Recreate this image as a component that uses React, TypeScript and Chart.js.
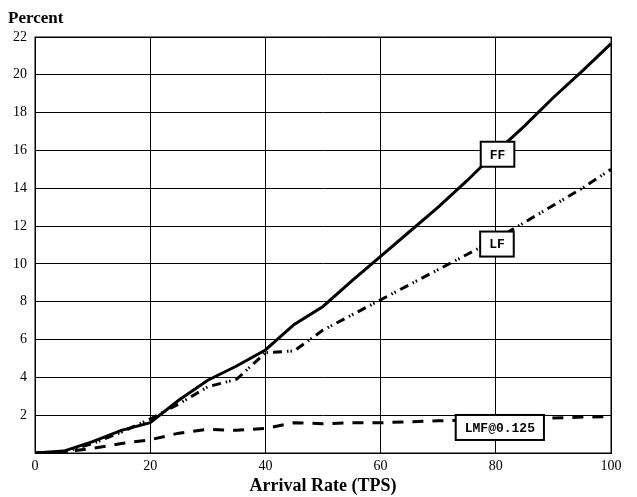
import React, { useEffect, useRef } from "react";
import { Chart, registerables } from "chart.js";

Chart.register(...registerables);

const xValues = [0, 5, 10, 15, 20, 25, 30, 35, 40, 45, 50, 55, 60, 65, 70, 75, 80, 85, 90, 95, 100];
const ffValues = [0, 0.1, 0.6, 1.2, 1.6, 2.8, 3.85, 4.6, 5.45, 6.8, 7.75, 9.1, 10.4, 11.7, 13.0, 14.4, 15.9, 17.3, 18.8, 20.2, 21.65];
const lfValues = [0, 0.05, 0.5, 1.1, 1.8, 2.6, 3.5, 3.9, 5.3, 5.4, 6.5, 7.3, 8.1, 8.9, 9.7, 10.5, 11.3, 12.2, 13.1, 14.0, 15.0];
const lmfValues = [0, 0.05, 0.25, 0.5, 0.7, 1.05, 1.25, 1.2, 1.3, 1.6, 1.55, 1.6, 1.6, 1.65, 1.7, 1.75, 1.8, 1.8, 1.85, 1.9, 1.92];
const seriesNames = ["FF", "LF", "LMF@0.125"];
const yTickValues = [2, 4, 6, 8, 10, 12, 14, 16, 18, 20, 22];
const xTickValues = [0, 20, 40, 60, 80, 100];
const labelAnchorX = [80.3, 80.2, 80.7];
const labelAnchorY = [15.8, 11.05, 1.35];

const serif = "'Liberation Serif', 'Times New Roman', serif";
const mono = "'Liberation Mono', 'Courier New', monospace";

const labelPlugin = {
  id: "boxLabels",
  afterDatasetsDraw(chart: any) {
    const ctx = chart.ctx;
    const xs = chart.scales.x;
    const ys = chart.scales.y;
    ctx.save();
    ctx.font = `bold 13px ${mono}`;
    ctx.textAlign = "center";
    ctx.textBaseline = "middle";
    seriesNames.forEach((name, i) => {
      const cx = xs.getPixelForValue(labelAnchorX[i]);
      const cy = ys.getPixelForValue(labelAnchorY[i]);
      const w = ctx.measureText(name).width + 18;
      const h = 25;
      ctx.fillStyle = "#ffffff";
      ctx.fillRect(cx - w / 2, cy - h / 2, w, h);
      ctx.lineWidth = 2;
      ctx.strokeStyle = "#000000";
      ctx.strokeRect(cx - w / 2, cy - h / 2, w, h);
      ctx.fillStyle = "#000000";
      ctx.fillText(name, cx, cy + 1);
    });
    ctx.restore();
  },
  afterDraw(chart: any) {
    const ctx = chart.ctx;
    ctx.save();
    ctx.font = `bold 17px ${serif}`;
    ctx.fillStyle = "#000";
    ctx.textAlign = "left";
    ctx.textBaseline = "alphabetic";
    ctx.fillText("Percent", 8, 23);
    const a = chart.chartArea;
    ctx.lineWidth = 1;
    ctx.strokeStyle = "#000";
    ctx.strokeRect(a.left, a.top, a.right - a.left, a.bottom - a.top);
    ctx.restore();
  },
};

export default function App() {
  const ref = useRef<HTMLCanvasElement>(null);
  useEffect(() => {
    if (!ref.current) return;
    const mk = (vals: number[]) => xValues.map((x, i) => ({ x, y: vals[i] }));
    const chart = new Chart(ref.current, {
      type: "line",
      data: {
        datasets: [
          {
            label: seriesNames[0],
            data: mk(ffValues),
            borderColor: "#000",
            borderWidth: 3,
            pointRadius: 0,
            tension: 0,
          },
          {
            label: seriesNames[1],
            data: mk(lfValues),
            borderColor: "#000",
            borderWidth: 3,
            borderDash: [9, 5, 1.5, 2, 1.5, 5],
            pointRadius: 0,
            tension: 0,
          },
          {
            label: seriesNames[2],
            data: mk(lmfValues),
            borderColor: "#000",
            borderWidth: 3,
            borderDash: [11, 9],
            pointRadius: 0,
            tension: 0,
          },
        ],
      },
      options: {
        responsive: false,
        animation: false,
        layout: { padding: { top: 37, right: 26, left: 0, bottom: 0 } },
        plugins: {
          legend: { display: false },
          title: { display: false },
          tooltip: { enabled: false },
        },
        scales: {
          x: {
            type: "linear",
            min: 0,
            max: 100,
            afterBuildTicks: (s: any) => {
              s.ticks = xTickValues.map((v) => ({ value: v }));
            },
            afterFit: (s: any) => {
              s.height = 44;
            },
            grid: { color: "#000", lineWidth: 1, drawTicks: false },
            border: { color: "#000" },
            ticks: {
              color: "#000",
              font: { family: serif, size: 14 },
              padding: 5,
              maxRotation: 0,
            },
            title: {
              display: true,
              text: "Arrival Rate (TPS)",
              color: "#000",
              font: { family: serif, size: 18, weight: "bold" },
              padding: { top: 0, bottom: 0 },
            },
          },
          y: {
            type: "linear",
            min: 0,
            max: 22,
            afterBuildTicks: (s: any) => {
              s.ticks = [{ value: 0 }, ...yTickValues.map((v) => ({ value: v }))];
            },
            afterFit: (s: any) => {
              s.width = 35;
            },
            grid: { color: "#000", lineWidth: 1, drawTicks: false },
            border: { color: "#000" },
            ticks: {
              color: "#000",
              font: { family: serif, size: 14 },
              padding: 8,
              callback: (v: any) => (v === 0 ? "" : String(v)),
            },
          },
        },
      },
      plugins: [labelPlugin],
    });
    return () => chart.destroy();
  }, []);
  return (
    <div style={{ position: "absolute", left: 0, top: 0, width: 637, height: 497, background: "#fff" }}>
      <canvas ref={ref} width={637} height={497} style={{ width: 637, height: 497 }} />
    </div>
  );
}
